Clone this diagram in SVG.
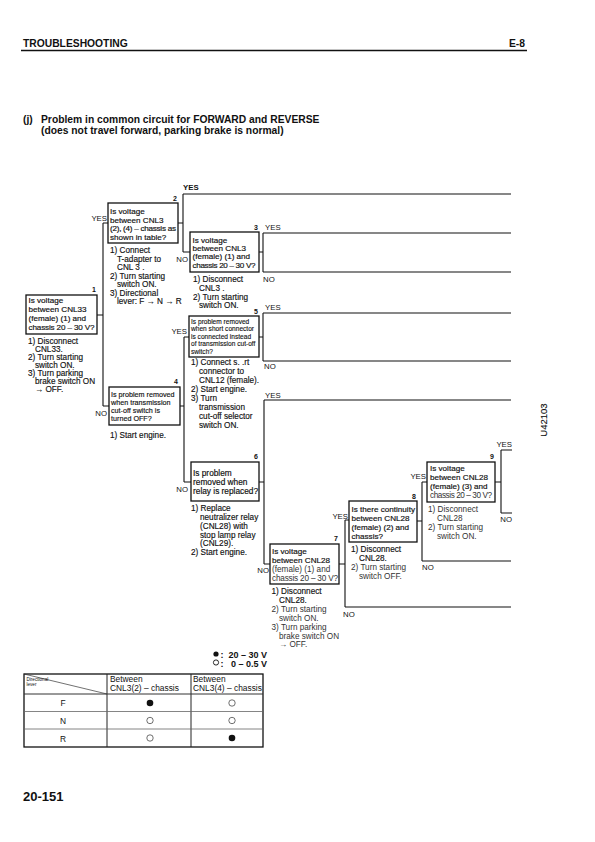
<svg xmlns="http://www.w3.org/2000/svg" width="595" height="842" viewBox="0 0 595 842">
<style>
text{font-family:"Liberation Sans",Arial,sans-serif;fill:#111}
.h{font-size:10.3px;font-weight:bold}
.b{font-size:8.1px;stroke:#111;stroke-width:0.18}
.i{font-size:8.2px;stroke:#111;stroke-width:0.15}
.g{font-size:8.2px;fill:#333}
.s{font-size:7.2px;stroke:#111;stroke-width:0.15}
.xs{font-size:6.6px;stroke:#111;stroke-width:0.12}
.m{font-size:8.3px;stroke:#111;stroke-width:0.18}
.n{font-size:7px;font-weight:bold}
.yn{font-size:7.8px}
.box{fill:#fff;stroke:#111;stroke-width:1.3}
.c{fill:none;stroke:#111;stroke-width:1.1}
.tl{fill:none;stroke:#222;stroke-width:1}
.tt{font-size:8.4px}
</style>

<g id="header">
<text class="h" x="23" y="46.5">TROUBLESHOOTING</text>
<text class="h" x="525" y="46.5" text-anchor="end">E-8</text>
<line x1="21" y1="50.5" x2="527" y2="50.5" stroke="#111" stroke-width="1.3"/>
<text class="h" x="23" y="122.5">(j)</text>
<text class="h" x="41" y="122.5">Problem in common circuit for FORWARD and REVERSE</text>
<text class="h" x="41" y="133.5">(does not travel forward, parking brake is normal)</text>
</g>

<g id="connectors">
<path class="c" d="M97,315 H103 M103,223 V406 M103,223 H108 M103,406 H109"/>
<path class="c" d="M178,223 H183 M183,194 V252 M183,194 H511 M183,252 H190"/>
<path class="c" d="M259,252 H263 M263,233 V272 M263,233 H511 M263,272 H511"/>
<path class="c" d="M180,406 H184 M184,337 V482 M184,337 H189 M184,482 H191"/>
<path class="c" d="M259,337 H263 M263,313 V361 M263,313 H511 M263,361 H511"/>
<path class="c" d="M259,482 H264 M264,400 V564 M264,400 H511 M264,564 H270"/>
<path class="c" d="M339,564 H345 M345,520 V607 M345,520 H349 M345,607 H511"/>
<path class="c" d="M417,521 H422 M422,482 V561 M422,482 H427 M422,561 H511"/>
<path class="c" d="M495,482 H501 M501,450 V513 M501,450 H512 M501,513 H512"/>
<text class="yn" x="183" y="190" font-weight="bold">YES</text>
<text class="yn" x="107" y="221" text-anchor="end">YES</text>
<text class="yn" x="107" y="416" text-anchor="end">NO</text>
<text class="yn" x="188" y="262" text-anchor="end">NO</text>
<text class="yn" x="265" y="230" fill="#555">YES</text>
<text class="yn" x="263" y="282">NO</text>
<text class="yn" x="187" y="334" text-anchor="end">YES</text>
<text class="yn" x="188" y="492" text-anchor="end">NO</text>
<text class="yn" x="265" y="310">YES</text>
<text class="yn" x="264" y="369">NO</text>
<text class="yn" x="265" y="398">YES</text>
<text class="yn" x="269" y="573" text-anchor="end">NO</text>
<text class="yn" x="348" y="519" text-anchor="end">YES</text>
<text class="yn" x="343" y="617">NO</text>
<text class="yn" x="426" y="479" text-anchor="end">YES</text>
<text class="yn" x="422" y="570">NO</text>
<text class="yn" x="512" y="447" text-anchor="end">YES</text>
<text class="yn" x="512" y="522" text-anchor="end">NO</text>
</g>

<g id="node1">
<rect class="box" x="26" y="295" width="71" height="39"/>
<text class="n" x="96" y="292" text-anchor="end">1</text>
<text class="b" x="28.5" y="303">Is voltage</text>
<text class="b" x="28.5" y="312">between CNL33</text>
<text class="b" x="28.5" y="321">(female) (1) and</text>
<text class="b" x="28.5" y="330" textLength="66">chassis 20 – 30 V?</text>
<text class="i" x="28" y="344">1) Disconnect</text>
<text class="i" x="35" y="352">CNL33.</text>
<text class="i" x="28" y="360">2) Turn starting</text>
<text class="i" x="35" y="368">switch ON.</text>
<text class="i" x="28" y="376">3) Turn parking</text>
<text class="i" x="35" y="384">brake switch ON</text>
<text class="i" x="35" y="392">→ OFF.</text>
</g>

<g id="node2">
<rect class="box" x="108" y="203" width="70" height="40"/>
<text class="n" x="177" y="201" text-anchor="end">2</text>
<text class="b" x="110" y="214">Is voltage</text>
<text class="b" x="110" y="223">between CNL3</text>
<text class="b" x="110" y="231" textLength="66">(2), (4) – chassis as</text>
<text class="b" x="110" y="240">shown in table?</text>
<text class="i" x="110" y="253">1) Connect</text>
<text class="i" x="117" y="261.5">T-adapter to</text>
<text class="i" x="117" y="270">CNL 3 .</text>
<text class="i" x="110" y="278.5">2) Turn starting</text>
<text class="i" x="117" y="287">switch ON.</text>
<text class="i" x="110" y="295.5">3) Directional</text>
<text class="i" x="117" y="304">lever: F → N → R</text>
</g>

<g id="node3">
<rect class="box" x="190" y="232" width="69" height="40"/>
<text class="n" x="258" y="230" text-anchor="end">3</text>
<text class="b" x="192.5" y="243">Is voltage</text>
<text class="b" x="192.5" y="251">between CNL3</text>
<text class="b" x="192.5" y="259">(female) (1) and</text>
<text class="b" x="192.5" y="268" textLength="63">chassis 20 – 30 V?</text>
<text class="i" x="193" y="282">1) Disconnect</text>
<text class="i" x="199" y="291">CNL3 .</text>
<text class="i" x="193" y="299.5">2) Turn starting</text>
<text class="i" x="199" y="308">switch ON.</text>
</g>

<g id="node4">
<rect class="box" x="109" y="387" width="71" height="38"/>
<text class="n" x="178" y="384" text-anchor="end">4</text>
<text class="s" x="111" y="396.5">Is problem removed</text>
<text class="s" x="111" y="404.5">when transmission</text>
<text class="s" x="111" y="412.5">cut-off switch is</text>
<text class="s" x="111" y="420.5">turned OFF?</text>
<text class="i" x="110" y="438">1) Start engine.</text>
</g>

<g id="node5">
<rect class="box" x="189" y="316" width="70" height="41"/>
<text class="n" x="258" y="314" text-anchor="end">5</text>
<text class="xs" x="191" y="323.5">Is problem removed</text>
<text class="xs" x="191" y="331">when short connector</text>
<text class="xs" x="191" y="338.5">is connected instead</text>
<text class="xs" x="191" y="346">of transmission cut-off</text>
<text class="xs" x="191" y="353.5">switch?</text>
<text class="i" x="191" y="365">1) Connect s. .rt</text>
<text class="i" x="199" y="374">connector to</text>
<text class="i" x="199" y="383">CNL12 (female).</text>
<text class="i" x="191" y="392">2) Start engine.</text>
<text class="i" x="191" y="401">3) Turn</text>
<text class="i" x="199" y="410">transmission</text>
<text class="i" x="199" y="419">cut-off selector</text>
<text class="i" x="199" y="428">switch ON.</text>
</g>

<g id="node6">
<rect class="box" x="191" y="462" width="68" height="39"/>
<text class="n" x="258" y="459" text-anchor="end">6</text>
<text class="m" x="193" y="476">Is problem</text>
<text class="m" x="193" y="485">removed when</text>
<text class="m" x="193" y="494">relay is replaced?</text>
<text class="i" x="191" y="511">1) Replace</text>
<text class="i" x="200" y="520">neutralizer relay</text>
<text class="i" x="200" y="529">(CNL28) with</text>
<text class="i" x="200" y="538">stop lamp relay</text>
<text class="i" x="200" y="546">(CNL29).</text>
<text class="i" x="191" y="555">2) Start engine.</text>
</g>

<g id="node7">
<rect class="box" x="270" y="544" width="69" height="40"/>
<text class="n" x="338" y="541" text-anchor="end">7</text>
<text class="b" x="272" y="554">Is voltage</text>
<text class="b" x="272" y="563">between CNL28</text>
<text class="g" x="272" y="572" font-size="8">(female) (1) and</text>
<text class="g" x="272" y="580.5" font-size="8" textLength="66">chassis 20 – 30 V?</text>
<text class="i" x="271.5" y="593.5">1) Disconnect</text>
<text class="i" x="279" y="603">CNL28.</text>
<text class="g" x="271.5" y="612">2) Turn starting</text>
<text class="g" x="279" y="620.5">switch ON.</text>
<text class="g" x="271.5" y="629.5">3) Turn parking</text>
<text class="g" x="279" y="638.5">brake switch ON</text>
<text class="g" x="279" y="647">→ OFF.</text>
</g>

<g id="node8">
<rect class="box" x="349" y="501" width="68" height="41"/>
<text class="n" x="416" y="499" text-anchor="end">8</text>
<text class="b" x="351.5" y="512">Is there continuity</text>
<text class="b" x="351.5" y="521">between CNL28</text>
<text class="b" x="351.5" y="530">(female) (2) and</text>
<text class="b" x="351.5" y="539">chassis?</text>
<text class="i" x="351" y="552">1) Disconnect</text>
<text class="i" x="359" y="560.5">CNL28.</text>
<text class="g" x="351" y="570">2) Turn starting</text>
<text class="g" x="359" y="579">switch OFF.</text>
</g>

<g id="node9">
<rect class="box" x="427" y="462" width="68" height="40"/>
<text class="n" x="494" y="459" text-anchor="end">9</text>
<text class="b" x="430" y="471">Is voltage</text>
<text class="b" x="430" y="480">between CNL28</text>
<text class="b" x="430" y="489">(female) (3) and</text>
<text class="g" x="430" y="498" font-size="8" textLength="62">chassis 20 – 30 V?</text>
<text class="g" x="428" y="512">1) Disconnect</text>
<text class="g" x="437" y="521">CNL28</text>
<text class="g" x="428" y="530">2) Turn starting</text>
<text class="g" x="437" y="539">switch ON.</text>
</g>

<g id="code">
<text transform="translate(546.5,420) rotate(-90)" text-anchor="middle" font-size="9.5" stroke="#111" stroke-width="0.15">U42103</text>
</g>

<g id="legend">
<circle cx="216" cy="654" r="2.6" fill="#111"/>
<text x="220.5" y="658" font-size="9" font-weight="bold">:</text>
<text x="267" y="658" font-size="9" font-weight="bold" text-anchor="end">20 – 30 V</text>
<circle cx="216" cy="662.5" r="2.6" fill="none" stroke="#111" stroke-width="0.9"/>
<text x="220.5" y="666.5" font-size="9" font-weight="bold">:</text>
<text x="267" y="666.5" font-size="9" font-weight="bold" text-anchor="end">0 – 0.5 V</text>
</g>

<g id="table">
<rect x="24" y="674" width="239" height="73" fill="none" stroke="#111" stroke-width="1.3"/>
<line class="tl" x1="107" y1="674" x2="107" y2="747"/>
<line class="tl" x1="191" y1="674" x2="191" y2="747"/>
<line x1="24" y1="694" x2="263" y2="694" stroke="#333" stroke-width="1"/>
<line x1="24" y1="711.5" x2="263" y2="711.5" stroke="#666" stroke-width="0.8"/>
<line x1="24" y1="729" x2="263" y2="729" stroke="#666" stroke-width="0.8"/>
<line x1="24" y1="674" x2="107" y2="694" stroke="#333" stroke-width="0.7"/>
<text x="26.5" y="681" font-size="4.6">Directional</text>
<text x="26.5" y="686" font-size="4.6">lever</text>
<text class="tt" x="110" y="682">Between</text>
<text class="tt" x="110" y="691">CNL3(2) – chassis</text>
<text class="tt" x="193" y="682">Between</text>
<text class="tt" x="193" y="691">CNL3(4) – chassis</text>
<text class="tt" x="63" y="706" text-anchor="middle">F</text>
<text class="tt" x="63" y="723.5" text-anchor="middle">N</text>
<text class="tt" x="63" y="741.5" text-anchor="middle">R</text>
<circle cx="150" cy="703" r="3.3" fill="#111"/>
<circle cx="232" cy="703" r="3.2" fill="none" stroke="#333" stroke-width="0.7"/>
<circle cx="150" cy="720.5" r="3.2" fill="none" stroke="#333" stroke-width="0.7"/>
<circle cx="232" cy="720.5" r="3.2" fill="none" stroke="#333" stroke-width="0.7"/>
<circle cx="150" cy="738" r="3.2" fill="none" stroke="#333" stroke-width="0.7"/>
<circle cx="232" cy="738" r="3.3" fill="#111"/>
</g>

<g id="footer">
<text x="23" y="801" font-size="13" font-weight="bold">20-151</text>
</g>
</svg>
